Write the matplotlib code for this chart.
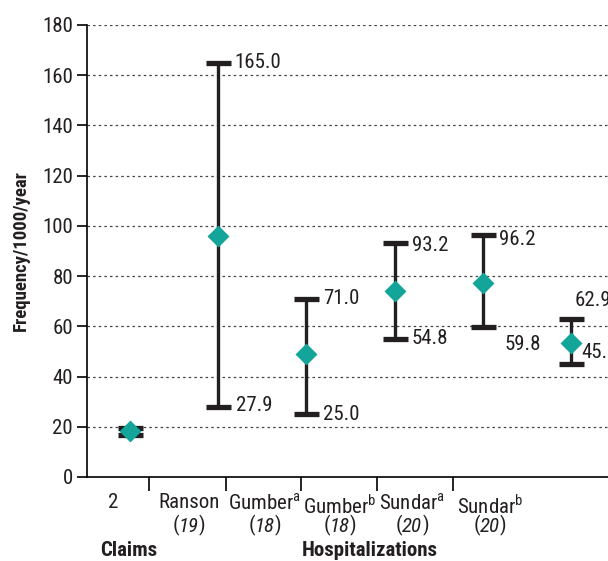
import numpy as np
import matplotlib.pyplot as plt
from matplotlib.offsetbox import TextArea, HPacker, AnnotationBbox

plt.rcParams['font.family'] = ['Roboto Condensed', 'DejaVu Sans']
plt.rcParams['mathtext.fontset'] = 'custom'
plt.rcParams['mathtext.rm'] = 'Roboto Condensed'

studies = ['2', 'Ranson', 'Gumber', 'Gumber', 'Sundar', 'Sundar']
sups = ['', '', 'a', 'b', 'a', 'b']
refs = ['', '19', '18', '18', '20', '20']
mean = [18.3, 96.0, 49.0, 74.0, 77.3, 53.4]
low = [16.7, 27.9, 25.0, 54.8, 59.8, 45.1]
high = [19.5, 165.0, 71.0, 93.2, 96.2, 62.9]
# label offsets (points) for upper / lower values
hi_off = [None, (3, 0), (3, 0), (4, -2), (3, -3), (-6, 13)]
lo_off = [None, (4, 1), (3, 0), (3, 1), (7, -13), (-1.5, 8)]

teal = '#13a59a'
ink = '#231f20'
fs = 15
fig = plt.figure(figsize=(6.08, 5.61), dpi=100)
ax = fig.add_axes([87/608, 1-477/561, 1.0-87/608, (477-25)/561])

x = np.arange(len(mean))
m = np.array(mean)
yerr = [m - np.array(low), np.array(high) - m]
ax.errorbar(x, m, yerr=yerr, fmt='none', ecolor=ink, elinewidth=2.4,
            capsize=9, capthick=3.8, zorder=3)
ax.scatter(x, m, marker='D', s=125, color=teal, zorder=4, linewidths=0)

for i in range(1, len(mean)):
    ax.annotate(f'{high[i]:.1f}', (x[i] + 0.14, high[i]), xytext=hi_off[i],
                textcoords='offset points', fontsize=fs, va='center', ha='left',
                color=ink)
    ax.annotate(f'{low[i]:.1f}', (x[i] + 0.14, low[i]), xytext=lo_off[i],
                textcoords='offset points', fontsize=fs, va='center', ha='left',
                color=ink)

ax.set_ylim(0, 180)
ax.set_yticks(np.arange(0, 181, 20))
ax.set_xlim(-0.4875, 5.42)
ax.yaxis.grid(True, linestyle=(0, (2, 2.5)), color='#444444', linewidth=0.9)
ax.set_axisbelow(True)
for s in ['top', 'right']:
    ax.spines[s].set_visible(False)
ax.spines['left'].set_linewidth(1.2)
ax.spines['bottom'].set_linewidth(1.2)
ax.tick_params(axis='y', labelsize=fs, length=7, width=1.2, labelcolor=ink, pad=3)
ax.set_xticks([0.215, 1.088, 1.94, 2.80, 3.66])
ax.set_xticklabels([])
ax.tick_params(axis='x', length=10, width=1.2)
ax.set_ylabel('Frequency/1000/year', fontsize=13.5, fontweight='bold', labelpad=9,
              color=ink)

lab_x = [-0.19, 0.669, 1.53, 2.38, 3.20, 4.08]
for i in range(len(studies)):
    name = studies[i]
    if sups[i]:
        name = name + r'$^{\mathrm{' + sups[i] + '}}$'
    ax.text(lab_x[i], -6.5, name, ha='center', va='top', fontsize=fs,
            clip_on=False, color=ink)
    if refs[i]:
        prop = dict(fontsize=fs, color=ink)
        box = HPacker(children=[TextArea('(', textprops=prop),
                                TextArea(refs[i], textprops=dict(prop, fontstyle='italic')),
                                TextArea(')', textprops=prop)],
                      pad=0, sep=0, align='baseline')
        ab = AnnotationBbox(box, (lab_x[i], -19.4), frameon=False, pad=0,
                            box_alignment=(0.5, 0.5), annotation_clip=False)
        ax.add_artist(ab)

ax.text(-0.01, -31.3, 'Claims', ha='center', va='baseline', fontsize=15,
        fontweight='bold', clip_on=False, color=ink)
ax.text(2.72, -31.3, 'Hospitalizations', ha='center', va='baseline', fontsize=15,
        fontweight='bold', clip_on=False, color=ink)

fig.savefig('out.png', dpi=100)
